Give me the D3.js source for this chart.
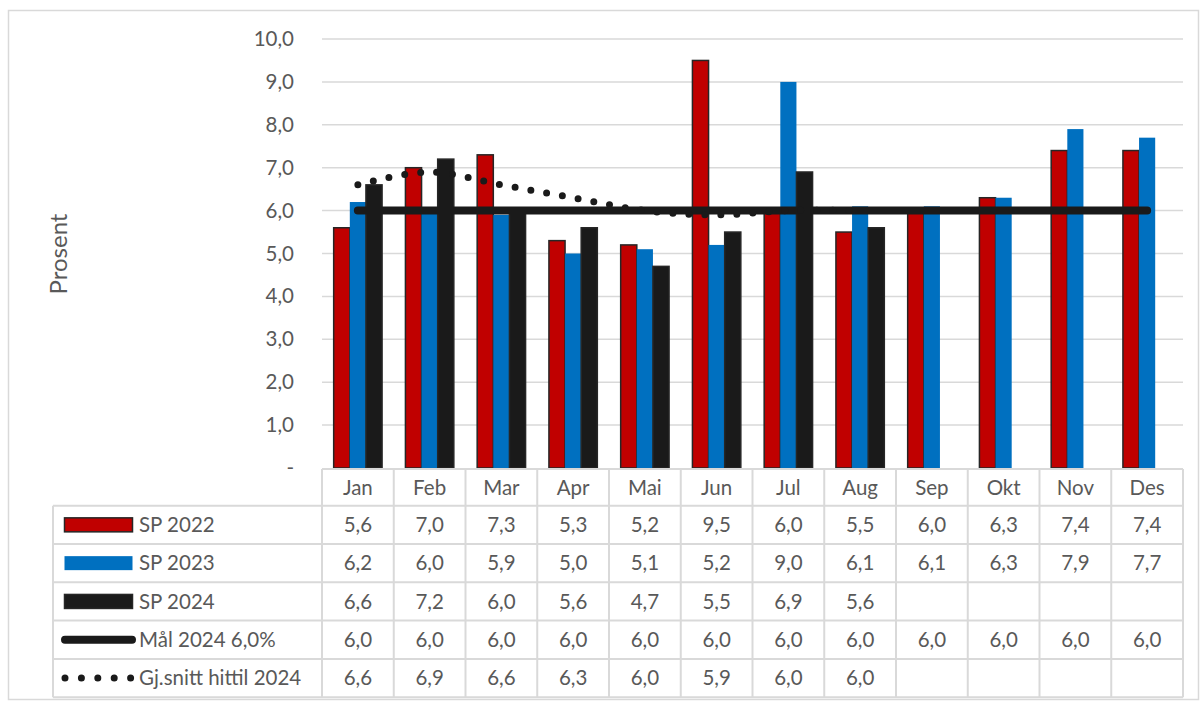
<!DOCTYPE html>
<html>
<head>
<meta charset="utf-8">
<script src="https://cdn.jsdelivr.net/npm/d3@7"></script>
<style>
  body { margin: 0; background: #fff; }
  svg text { font-family: Lato, "Open Sans", sans-serif; fill: #595959; }
</style>
</head>
<body>
<div id="chart"></div>
<script>
// Data
var months = ["Jan", "Feb", "Mar", "Apr", "Mai", "Jun", "Jul", "Aug", "Sep", "Okt", "Nov", "Des"];
var sp2022 = [5.6, 7.0, 7.3, 5.3, 5.2, 9.5, 6.0, 5.5, 6.0, 6.3, 7.4, 7.4];
var sp2023 = [6.2, 6.0, 5.9, 5.0, 5.1, 5.2, 9.0, 6.1, 6.1, 6.3, 7.9, 7.7];
var sp2024 = [6.6, 7.2, 6.0, 5.6, 4.7, 5.5, 6.9, 5.6, null, null, null, null];
var maal2024 = [6.0, 6.0, 6.0, 6.0, 6.0, 6.0, 6.0, 6.0, 6.0, 6.0, 6.0, 6.0];
var snitt2024 = [6.6, 6.9, 6.6, 6.3, 6.0, 5.9, 6.0, 6.0, null, null, null, null];
var yTicks = [0, 1, 2, 3, 4, 5, 6, 7, 8, 9, 10];

var width = 1200, height = 704;
var fs = 20.5;

// plott-omraade
var plotLeft = 322, plotRight = 1183;
var plotTop = 39, plotBottom = 468;

// tabell
var headTop = 469, headBottom = 505.7;
var rowH = 38.3;
var legendLeft = 53;

var svg = d3.select("#chart").append("svg")
  .attr("width", width)
  .attr("height", height);

// ramme rundt hele grafen
svg.append("rect")
  .attr("x", 8.5).attr("y", 10.5)
  .attr("width", 1190).attr("height", 689)
  .attr("fill", "none")
  .attr("stroke", "#d9d9d9")
  .attr("stroke-width", 1.5);

var x = d3.scaleBand().domain(months).range([plotLeft, plotRight]);
var series = ["sp2022", "sp2023", "sp2024"];
var x1 = d3.scaleBand().domain(series).range([0, x.bandwidth()]).paddingOuter(0.724);
var y = d3.scaleLinear().domain([0, 10]).range([plotBottom, plotTop]);

var fmt = function(v) { return d3.format(".1f")(v).replace(".", ","); };

// gridlinjer
svg.append("g").selectAll("line")
  .data(yTicks.filter(function(d) { return d > 0; }))
  .enter().append("line")
  .attr("x1", plotLeft).attr("x2", plotRight)
  .attr("y1", function(d) { return y(d); })
  .attr("y2", function(d) { return y(d); })
  .attr("stroke", "#d9d9d9")
  .attr("stroke-width", 1.5);

// y-akse
var yAxis = d3.axisLeft(y).tickValues(yTicks).tickSize(0).tickPadding(0)
  .tickFormat(function(d) { return d === 0 ? "-" : fmt(d); });
var yG = svg.append("g")
  .attr("transform", "translate(294,0)")
  .call(yAxis);
yG.select(".domain").remove();
yG.selectAll("text")
  .attr("font-size", fs)
  .attr("fill", "#595959")
  .attr("font-family", "Lato, 'Open Sans', sans-serif");

svg.append("text")
  .attr("transform", "translate(67,254)rotate(-90)")
  .attr("text-anchor", "middle")
  .attr("font-size", 24)
  .text("Prosent");

// soyler
var colors = { sp2022: "#c00000", sp2023: "#0070c0", sp2024: "#1a1a1a" };
var values = { sp2022: sp2022, sp2023: sp2023, sp2024: sp2024 };

series.forEach(function(s) {
  var rows = months.map(function(m, i) { return { m: m, v: values[s][i] }; })
    .filter(function(d) { return d.v !== null; });
  svg.append("g").selectAll("rect")
    .data(rows)
    .enter().append("rect")
    .attr("x", function(d) { return x(d.m) + x1(s); })
    .attr("y", function(d) { return y(d.v); })
    .attr("width", x1.bandwidth())
    .attr("height", function(d) { return y(0) - y(d.v); })
    .attr("fill", colors[s])
    .attr("stroke", s === "sp2023" ? "none" : "#262626")
    .attr("stroke-width", 1.5);
});

var cx = function(m) { return x(m) + x.bandwidth() / 2; };

// maal-linje
var maalLine = d3.line()
  .x(function(d, i) { return cx(months[i]); })
  .y(function(d) { return y(d); });
svg.append("path")
  .datum(maal2024)
  .attr("d", maalLine)
  .attr("fill", "none")
  .attr("stroke", "#1a1a1a")
  .attr("stroke-width", 8)
  .attr("stroke-linecap", "round");

// gjennomsnitt, glattet prikket linje
var snittData = snitt2024.map(function(v, i) { return { m: months[i], v: v }; })
  .filter(function(d) { return d.v !== null; });
var snittLine = d3.line()
  .x(function(d) { return cx(d.m); })
  .y(function(d) { return y(d.v); })
  .curve(d3.curveCatmullRom.alpha(0.5));
svg.append("path")
  .datum(snittData)
  .attr("d", snittLine)
  .attr("fill", "none")
  .attr("stroke", "#1a1a1a")
  .attr("stroke-width", 7)
  .attr("stroke-linecap", "round")
  .attr("stroke-dasharray", "0 16");

// datatabell
var tbl = svg.append("g");
var border = "#d9d9d9";
var rowsCount = 5;
var tableBottom = headBottom + rowH * rowsCount;

// horisontale linjer
tbl.append("line")
  .attr("x1", plotLeft).attr("x2", plotRight)
  .attr("y1", headTop).attr("y2", headTop)
  .attr("stroke", border).attr("stroke-width", 2);
d3.range(rowsCount + 1).forEach(function(r) {
  var yy = headBottom + r * rowH;
  tbl.append("line")
    .attr("x1", legendLeft).attr("x2", plotRight)
    .attr("y1", yy).attr("y2", yy)
    .attr("stroke", border).attr("stroke-width", 2);
});
// vertikale linjer
tbl.append("line")
  .attr("x1", legendLeft).attr("x2", legendLeft)
  .attr("y1", headBottom).attr("y2", tableBottom)
  .attr("stroke", border).attr("stroke-width", 2);
months.forEach(function(m) {
  tbl.append("line")
    .attr("x1", x(m)).attr("x2", x(m))
    .attr("y1", headTop).attr("y2", tableBottom)
    .attr("stroke", border).attr("stroke-width", 2);
});
tbl.append("line")
  .attr("x1", plotRight).attr("x2", plotRight)
  .attr("y1", headTop).attr("y2", tableBottom)
  .attr("stroke", border).attr("stroke-width", 2);

// maanedsnavn
tbl.selectAll("text.month")
  .data(months)
  .enter().append("text")
  .attr("class", "month")
  .attr("x", function(d) { return cx(d); })
  .attr("y", (headTop + headBottom) / 2)
  .attr("dy", "0.35em")
  .attr("text-anchor", "middle")
  .attr("font-size", fs)
  .text(function(d) { return d; });

var tableRows = [
  { name: "SP 2022", vals: sp2022, key: "rect", color: "#c00000", stroke: "#262626" },
  { name: "SP 2023", vals: sp2023, key: "rect", color: "#0070c0", stroke: "none" },
  { name: "SP 2024", vals: sp2024, key: "rect", color: "#1a1a1a", stroke: "#262626" },
  { name: "Mål 2024 6,0%", vals: maal2024, key: "line" },
  { name: "Gj.snitt hittil 2024", vals: snitt2024, key: "dots" }
];

tableRows.forEach(function(row, r) {
  var cy = headBottom + r * rowH + rowH / 2;
  // legend-symbol
  if (row.key === "rect") {
    tbl.append("rect")
      .attr("x", 64.5).attr("y", cy - 7)
      .attr("width", 68).attr("height", 14)
      .attr("fill", row.color)
      .attr("stroke", row.stroke)
      .attr("stroke-width", 1.5);
  } else if (row.key === "line") {
    tbl.append("line")
      .attr("x1", 65).attr("x2", 132)
      .attr("y1", cy).attr("y2", cy)
      .attr("stroke", "#1a1a1a")
      .attr("stroke-width", 8)
      .attr("stroke-linecap", "round");
  } else {
    tbl.append("line")
      .attr("x1", 65).attr("x2", 132)
      .attr("y1", cy).attr("y2", cy)
      .attr("stroke", "#1a1a1a")
      .attr("stroke-width", 7)
      .attr("stroke-linecap", "round")
      .attr("stroke-dasharray", "0 16.4");
  }
  tbl.append("text")
    .attr("x", 139)
    .attr("y", cy)
    .attr("dy", "0.35em")
    .attr("font-size", fs)
    .text(row.name);

  tbl.append("g").selectAll("text")
    .data(row.vals.map(function(v, i) { return { m: months[i], v: v }; })
      .filter(function(d) { return d.v !== null; }))
    .enter().append("text")
    .attr("x", function(d) { return cx(d.m); })
    .attr("y", cy)
    .attr("dy", "0.35em")
    .attr("text-anchor", "middle")
    .attr("font-size", fs)
    .text(function(d) { return fmt(d.v); });
});
</script>
</body>
</html>
